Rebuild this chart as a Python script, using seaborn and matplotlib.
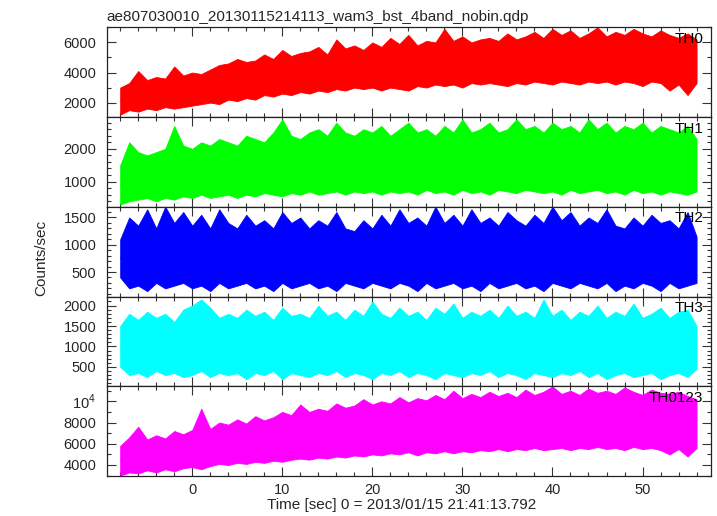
import numpy as np
import pandas as pd
import matplotlib
matplotlib.use("Agg")
import matplotlib.pyplot as plt
from matplotlib.ticker import MultipleLocator, FixedLocator, FixedFormatter
import seaborn as sns

# ---------------- data ----------------
time = [-8, -7, -6, -5, -4, -3, -2, -1, 0, 1, 2, 3, 4, 5, 6, 7, 8, 9, 10, 11,
        12, 13, 14, 15, 16, 17, 18, 19, 20, 21, 22, 23, 24, 25, 26, 27, 28, 29,
        30, 31, 32, 33, 34, 35, 36, 37, 38, 39, 40, 41, 42, 43, 44, 45, 46, 47,
        48, 49, 50, 51, 52, 53, 54, 55, 56]

th0_low = [1200, 1500, 1400, 1600, 1500, 1700, 1600, 1700, 1800, 1900, 2000, 1900,
           2200, 2100, 2300, 2200, 2500, 2400, 2600, 2500, 2700, 2600, 2800, 2700,
           2900, 2800, 3000, 2900, 3000, 2800, 3000, 2900, 2800, 3100, 3000, 3200,
           3100, 3200, 3000, 3300, 3200, 3300, 3200, 3100, 3300, 3200, 3400, 3300,
           3200, 3400, 3300, 3200, 3400, 3300, 3400, 3200, 3400, 3300, 3100, 3400,
           3300, 2800, 3200, 2500, 3300]
th0_high = [3000, 3300, 4100, 3500, 3700, 3600, 4400, 3800, 4000, 3900, 4200, 4500,
            4600, 4900, 4700, 4800, 5200, 4900, 5500, 5100, 5300, 5400, 5700, 5200,
            6200, 5600, 5800, 5500, 6000, 5700, 6300, 5900, 6500, 5800, 6100, 6000,
            6900, 6100, 6400, 6000, 6200, 6300, 6100, 6600, 6200, 6400, 6700, 6300,
            6900, 6500, 6800, 6300, 6600, 7000, 6400, 6700, 6500, 6900, 6600, 6400,
            6800, 6500, 6300, 6600, 6200]

th1_low = [300, 400, 450, 500, 400, 500, 450, 550, 500, 600, 500, 550, 600, 500,
           600, 550, 650, 600, 550, 650, 600, 700, 600, 650, 700, 600, 700, 650,
           700, 600, 700, 650, 700, 600, 750, 650, 700, 600, 750, 650, 700, 600,
           750, 700, 650, 750, 700, 650, 700, 600, 750, 650, 700, 750, 650, 700,
           600, 750, 650, 700, 600, 700, 650, 600, 700]
th1_high = [1500, 2200, 1900, 1800, 1900, 2000, 2700, 2100, 2000, 2200, 2100, 2300,
            2200, 2100, 2400, 2300, 2200, 2500, 2900, 2400, 2300, 2500, 2600, 2400,
            2800, 2500, 2400, 2600, 2500, 2700, 2400, 2600, 2800, 2500, 2600, 2400,
            2700, 2500, 2900, 2500, 2600, 2800, 2500, 2600, 2900, 2600, 2700, 2500,
            2800, 2600, 2700, 2500, 2900, 2600, 2800, 2500, 2700, 2600, 2800, 2500,
            2700, 2600, 2500, 2700, 2300]

th2_low = [400, 200, 250, 150, 300, 200, 250, 300, 200, 250, 150, 300, 200, 250,
           300, 200, 250, 150, 300, 200, 250, 300, 200, 250, 150, 300, 250, 200,
           300, 250, 200, 300, 250, 150, 300, 200, 250, 300, 200, 250, 150, 300,
           200, 250, 300, 200, 250, 150, 300, 250, 200, 300, 250, 200, 300, 150,
           250, 200, 300, 250, 150, 300, 200, 250, 300]
th2_high = [1100, 1500, 1350, 1650, 1300, 1700, 1400, 1600, 1350, 1550, 1300, 1650,
            1400, 1300, 1550, 1350, 1450, 1300, 1600, 1400, 1500, 1300, 1450, 1350,
            1600, 1300, 1250, 1450, 1300, 1550, 1350, 1650, 1400, 1500, 1350, 1700,
            1400, 1550, 1350, 1650, 1400, 1500, 1350, 1600, 1450, 1350, 1550, 1400,
            1700, 1450, 1600, 1350, 1500, 1400, 1650, 1350, 1300, 1500, 1350, 1550,
            1400, 1450, 1300, 1600, 1150]

th3_low = [500, 300, 350, 250, 400, 300, 350, 250, 300, 400, 250, 350, 300, 350,
           200, 350, 300, 400, 200, 350, 300, 250, 350, 300, 400, 250, 350, 300,
           200, 350, 300, 400, 250, 350, 300, 200, 350, 300, 250, 350, 300, 400,
           250, 350, 300, 200, 350, 300, 250, 350, 300, 400, 250, 350, 200, 300,
           350, 250, 300, 350, 200, 300, 350, 250, 450]
th3_high = [1500, 1800, 1650, 1850, 1700, 1800, 1600, 1900, 2000, 2150, 1950, 1700,
            1800, 1700, 1900, 1750, 1850, 1650, 1950, 1750, 1800, 1700, 2000, 1750,
            1850, 1650, 1900, 1750, 2100, 1800, 1700, 1950, 1750, 1850, 1650, 1950,
            1800, 2050, 1700, 1850, 1750, 1900, 1700, 2000, 1750, 1850, 1700, 2150,
            1750, 1900, 1650, 1850, 1750, 2000, 1700, 1850, 1750, 2050, 1700, 1800,
            1950, 1700, 1850, 1900, 1500]

th0123_low = [3000, 3300, 3200, 3500, 3300, 3600, 3400, 3700, 3800, 3600, 3900, 4100,
              4000, 4200, 4100, 4300, 4200, 4400, 4300, 4500, 4600, 4500, 4700, 4600,
              4800, 4700, 4900, 4800, 5000, 4900, 5100, 5000, 5200, 4900, 5200, 5100,
              5300, 5100, 5300, 5200, 5400, 5300, 5500, 5300, 5500, 5400, 5600, 5400,
              5500, 5600, 5400, 5600, 5500, 5700, 5500, 5600, 5400, 5700, 5500, 5600,
              5400, 5000, 5500, 4800, 5600]
th0123_high = [5800, 6600, 7600, 6400, 6800, 6500, 7200, 6900, 7300, 9300, 7400, 8000,
               7800, 8300, 7900, 8600, 8200, 8500, 9000, 8700, 9700, 9000, 9300, 9100,
               9800, 9400, 9600, 10200, 9700, 10000, 9800, 10400, 9900, 10300, 10100,
               10600, 10200, 11000, 10300, 10700, 10400, 10900, 10500, 10800, 10400,
               11100, 10600, 10900, 11400, 10700, 11000, 10600, 11200, 10800, 11000,
               10700, 11300, 10900, 10600, 11100, 10800, 10700, 10900, 10500, 10200]

band_names = ["TH0", "TH1", "TH2", "TH3", "TH0123"]
band_colors = ["#ff0000", "#00ff00", "#0000ff", "#00ffff", "#ff00ff"]
lows = [th0_low, th1_low, th2_low, th3_low, th0123_low]
highs = [th0_high, th1_high, th2_high, th3_high, th0123_high]

y_limits = [(1040, 7000), (230, 2970), (50, 1696), (26, 2221), (2960, 11415)]
y_major = [[2000, 4000, 6000], [1000, 2000], [500, 1000, 1500],
           [500, 1000, 1500, 2000], [4000, 6000, 8000, 10000]]
y_major_labels = [["2000", "4000", "6000"], ["1000", "2000"], ["500", "1000", "1500"],
                  ["500", "1000", "1500", "2000"], ["4000", "6000", "8000", "10$^4$"]]
y_minor_step = [1000, 200, 100, 100, 1000]

title_text = "ae807030010_20130115214113_wam3_bst_4band_nobin.qdp"
xlabel_text = "Time [sec] 0 = 2013/01/15 21:41:13.792"
ylabel_text = "Counts/sec"

# ---------------- style ----------------
sns.set_style("ticks")
plt.rcParams["font.family"] = ["Liberation Sans", "DejaVu Sans"]
plt.rcParams["axes.linewidth"] = 0.9
plt.rcParams["mathtext.fontset"] = "custom"
plt.rcParams["mathtext.rm"] = "Liberation Sans"

fig, axes = plt.subplots(5, 1, sharex=True, figsize=(7.17, 5.16), dpi=100)
fig.subplots_adjust(left=0.1488, right=0.9916, top=0.947, bottom=0.0775, hspace=0)

for i, ax in enumerate(axes):
    df = pd.DataFrame({
        "time": time + time,
        "rate": lows[i] + highs[i],
    })
    sns.lineplot(data=df, x="time", y="rate", estimator="mean",
                 errorbar=("pi", 100), color=band_colors[i], linewidth=0.6,
                 err_kws={"alpha": 1.0, "linewidth": 0.6,
                          "edgecolor": band_colors[i]},
                 ax=ax)
    ax.set_xlabel("")
    ax.set_ylabel("")
    ax.set_ylim(*y_limits[i])
    ax.yaxis.set_major_locator(FixedLocator(y_major[i]))
    ax.yaxis.set_major_formatter(FixedFormatter(y_major_labels[i]))
    ax.yaxis.set_minor_locator(MultipleLocator(y_minor_step[i]))
    ax.set_xlim(-9.5, 57.6)
    ax.xaxis.set_major_locator(MultipleLocator(10))
    ax.xaxis.set_minor_locator(MultipleLocator(2))
    ax.tick_params(which="both", direction="in", top=True, right=True,
                   color="#333333", width=0.8)
    ax.tick_params(which="major", length=6.5)
    ax.tick_params(which="minor", length=3)
    ax.tick_params(axis="y", labelsize=10.5, pad=7.5)
    ax.tick_params(axis="x", labelsize=10.5, pad=5)
    for sp in ax.spines.values():
        sp.set_color("#222222")
    ax.text(0.987, 0.95, band_names[i], transform=ax.transAxes, ha="right",
            va="top", fontsize=11, color="black", zorder=5)

fig.text(106.7 / 717, 1 - 20.7 / 516, title_text, ha="left", va="baseline",
         fontsize=11)
fig.text(402 / 717, 1 - 509 / 516, xlabel_text, ha="center", va="baseline",
         fontsize=11)
fig.text(41 / 717, 1 - 258 / 516, ylabel_text, ha="center", va="center",
         rotation=90, fontsize=11)

fig.savefig("out.png", dpi=100)
